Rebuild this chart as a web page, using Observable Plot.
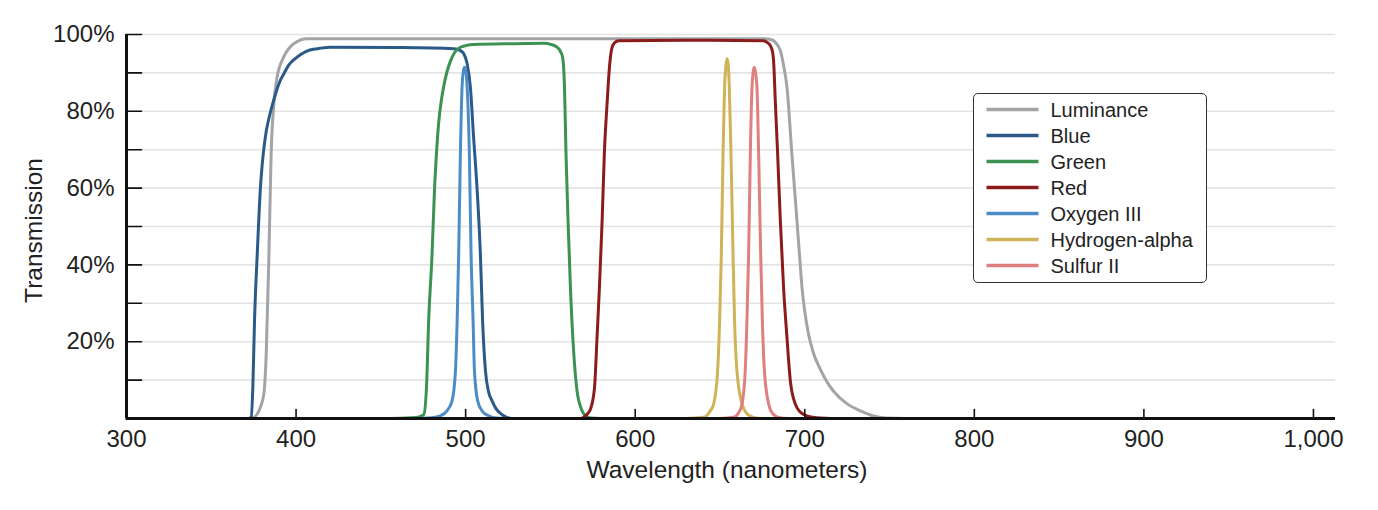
<!DOCTYPE html>
<html>
<head>
<meta charset="utf-8">
<script src="https://cdn.jsdelivr.net/npm/d3@7"></script>
<script src="https://cdn.jsdelivr.net/npm/@observablehq/plot@0.6"></script>
<style>
  html, body { margin: 0; padding: 0; background: #fff; }
  #chart { position: relative; width: 1378px; height: 510px; font-family: "Liberation Sans", Arial, Helvetica, sans-serif; }
  #legend { position: absolute; left: 973px; top: 93px; width: 234px; height: 190px; box-sizing: border-box;
            border: 1.5px solid #333; border-radius: 5px; background: #fff; }
  #legend svg { position: absolute; left: 0; top: 0; overflow: visible; }
</style>
</head>
<body>
<div id="chart"></div>
<script>
// Filter transmission curves: [wavelength (nm), transmission (%)]
const luminance = [
  [300, 0], [370, 0], [375, 0.3], [377, 1.1], [379, 3], [381, 6.4], [382.4, 16.8], [384, 42.8],
  [385.3, 68.9], [386.9, 81.9], [388.8, 88.9], [392.7, 94.1], [398.6, 97.6], [406.5, 98.9],
  [500, 98.9], [600, 98.9], [676, 98.9], [680, 98.7], [683, 97.8], [685.6, 95.8], [687.5, 92],
  [689.5, 86.3], [692.4, 68.9], [695.4, 51.5], [697, 42], [698.3, 34.5], [699.8, 28.5],
  [702.2, 22], [705, 17.2], [709.2, 12.8], [713, 9.6], [717, 7.1], [725, 3.8], [732.8, 2.0],
  [740, 0.7], [748, 0.1], [760, 0], [1000, 0]
];
const blue = [
  [300, 0], [372, 0], [373.5, 0.3], [374.5, 8], [375.5, 25.5], [377.1, 42.8], [379, 60.2],
  [380, 66], [381, 70.3], [382.3, 74.5], [383.9, 78], [385.8, 81.3], [387.9, 84.5], [390, 87.3],
  [392.8, 89.8], [396, 92.2], [400.6, 94.1], [406, 95.6], [412.4, 96.3], [420, 96.7],
  [460, 96.6], [493, 96.3], [497, 95.8], [498.9, 95], [500.9, 92.4], [502.8, 86.3],
  [504.7, 73.2], [506.7, 60.2], [508.7, 42.8], [510, 25.5], [511.7, 12.4], [513.5, 7],
  [515.6, 4.6], [518, 2.5], [522.5, 0.7], [527, 0], [1000, 0]
];
const green = [
  [300, 0], [455, 0], [468, 0.2], [473, 0.5], [475.3, 1], [476.9, 8], [478.2, 25.5], [480.2, 42.8],
  [481.7, 60.2], [482.8, 69], [484.1, 77], [485.5, 82.3], [487, 86.3], [489, 90.3], [491, 93],
  [493.5, 95.3], [496.9, 96.7], [500, 97.1], [504.7, 97.4], [530, 97.6], [546.1, 97.7],
  [550.5, 97.4], [553.9, 96.7], [556, 95.5], [557.2, 94.1], [558.3, 86.3], [559.2, 68.9],
  [560.4, 51.5], [561.8, 34.1], [563.8, 16.8], [565.7, 7.2], [568.7, 2], [571, 0.6],
  [573.6, 0.1], [580, 0], [1000, 0]
];
const red = [
  [300, 0], [567.7, 0], [571.6, 1.1], [573.6, 2.4], [576, 8], [577.5, 21.1], [578.9, 34.1],
  [580.5, 51.5], [581.8, 68.9], [583.4, 81.9], [585, 92.4], [586.4, 96.7], [588, 97.9],
  [590.2, 98.4], [630, 98.5], [675.7, 98.4], [678, 97.9], [679.7, 97.1], [681, 95.5],
  [681.6, 93.2], [682.7, 81.9], [684, 68.9], [685.6, 51.5], [687.5, 34.1], [689.5, 21.1],
  [691.5, 9.8], [694.4, 3.8], [697, 1.8], [701.3, 0.7], [709.2, 0.1], [715, 0], [1000, 0]
];
const oxygenIII = [
  [300, 0], [470, 0], [480, 0.2], [485.1, 0.7], [489, 2], [492, 4.6], [494, 12.4], [495, 25.5],
  [495.9, 42.8], [496.9, 68.9], [497.9, 86.3], [498.7, 90.5], [499.3, 91.5], [500, 90.8],
  [500.9, 86.3], [502.2, 68.9], [503.2, 42.8], [504.4, 25.5], [505.2, 12.4], [507.1, 4.6],
  [510, 1.8], [513.6, 0.7], [518, 0.1], [525, 0], [1000, 0]
];
const hydrogenAlpha = [
  [300, 0], [630, 0], [640.4, 0.3], [644, 1.8], [646.3, 3.8], [648.6, 12.4], [649.8, 25.5],
  [650.8, 42.8], [651.8, 68.9], [652.7, 86.3], [653.4, 91.5], [654.1, 93.7], [654.8, 92.5],
  [655.5, 86.3], [656.5, 68.9], [657.7, 42.8], [658.6, 25.5], [660, 12.4], [663, 3.8],
  [666, 1.2], [669.8, 0.3], [675, 0], [1000, 0]
];
const sulfurII = [
  [300, 0], [650, 0], [658, 0.3], [661, 1.5], [663, 3.8], [664.9, 12.4], [665.9, 25.5],
  [666.9, 42.8], [667.9, 68.9], [668.9, 86.3], [669.5, 90], [670.2, 91.5], [671, 90],
  [671.8, 86.3], [672.8, 68.9], [674, 42.8], [675, 25.5], [676.2, 12.4], [678.7, 3.8],
  [681, 1.3], [684.6, 0.3], [690, 0], [1000, 0]
];

const seriesNames = ["Luminance", "Blue", "Green", "Red", "Oxygen III", "Hydrogen-alpha", "Sulfur II"];
const seriesData = [luminance, blue, green, red, oxygenIII, hydrogenAlpha, sulfurII];
const seriesColors = ["#a3a4a8", "#2b5a88", "#3c9351", "#8c1c1c", "#4c8cc6", "#cfb358", "#e07f7f"];

const xTickValues = [300, 400, 500, 600, 700, 800, 900, 1000];
const xTickMarks = [400, 500, 600, 700, 800, 900, 1000];
const yLabelValues = [20, 40, 60, 80, 100];
const yGridValues = [10, 20, 30, 40, 50, 60, 70, 80, 90, 100];

const rows = seriesNames.flatMap((name, i) =>
  seriesData[i].map(([wavelength, transmission]) => ({name, wavelength, transmission})));

// Straight tick stroke for vector marks (from the anchor outward)
const tickShape = { draw(context, l) { context.moveTo(0, 0); context.lineTo(0, -l); } };

const fontFamily = '"Liberation Sans", Arial, Helvetica, sans-serif';

const plot = Plot.plot({
  width: 1378,
  height: 510,
  marginLeft: 126,
  marginRight: 43,
  marginTop: 34,
  marginBottom: 92,
  style: { fontFamily, fontSize: "24px", color: "#222", background: "#fff" },
  x: { domain: [300, 1013], label: null },
  y: { domain: [0, 100], label: null },
  color: { domain: seriesNames, range: seriesColors },
  marks: [
    Plot.ruleY(yGridValues, { stroke: "#e4e4e4", strokeWidth: 1.6 }),
    Plot.line(rows, {
      x: "wavelength", y: "transmission", z: "name", stroke: "name",
      strokeWidth: 3, curve: "monotone-x", strokeLinejoin: "round", strokeLinecap: "round"
    }),
    Plot.ruleX([300], { stroke: "#111", strokeWidth: 3 }),
    Plot.ruleY([0], { stroke: "#111", strokeWidth: 3 }),
    Plot.vector(yGridValues, {
      x: 300, y: d => d, rotate: 90, length: 15, anchor: "start",
      shape: tickShape, stroke: "#111", strokeWidth: 1.6
    }),
    Plot.vector(xTickMarks, {
      x: d => d, y: 0, rotate: 0, length: 9, anchor: "start",
      shape: tickShape, stroke: "#111", strokeWidth: 1.6
    }),
    Plot.axisY(yLabelValues, {
      anchor: "left", tickSize: 0, tickPadding: 12, label: null,
      tickFormat: d => `${d}%`, fontSize: 24
    }),
    Plot.axisX(xTickValues, {
      anchor: "bottom", tickSize: 0, tickPadding: 11, label: null,
      tickFormat: d3.format(","), fontSize: 24
    }),
    Plot.text(["Transmission"], {
      text: d => d, frameAnchor: "left", textAnchor: "middle", lineAnchor: "middle",
      rotate: -90, dx: -92, dy: 4, fontSize: 24.5
    }),
    Plot.text(["Wavelength (nanometers)"], {
      text: d => d, frameAnchor: "bottom", textAnchor: "middle", lineAnchor: "middle",
      dx: -4, dy: 52, fontSize: 24.5
    })
  ]
});

const chart = document.getElementById("chart");
chart.appendChild(plot);

// Legend box
const legend = d3.select(chart).append("div").attr("id", "legend");
const lsvg = legend.append("svg").attr("width", 231).attr("height", 187);
const item = lsvg.selectAll("g").data(seriesNames).join("g")
  .attr("transform", (d, i) => `translate(0,${15.5 + 26 * i})`);
item.append("line")
  .attr("x1", 12.5).attr("x2", 64.5).attr("y1", 0).attr("y2", 0)
  .attr("stroke", (d, i) => seriesColors[i]).attr("stroke-width", 3.5);
item.append("text")
  .attr("x", 76.5).attr("y", 0).attr("dy", "0.35em")
  .attr("font-family", fontFamily).attr("font-size", 20).attr("fill", "#222")
  .text(d => d);
</script>
</body>
</html>
